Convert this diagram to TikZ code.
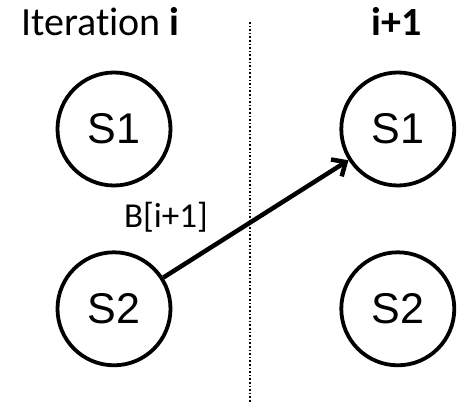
\documentclass[tikz,border=0pt]{standalone}
\usepackage{fontspec}
\setmainfont{Carlito}[Ligatures=NoCommon]
\newfontfamily\statefont{Liberation Sans}
\usetikzlibrary{arrows.meta, positioning}

\begin{document}
\begin{tikzpicture}[
    x=1pt, y=-1pt,
    node distance=63pt and 167pt,
    state/.style={
        circle, draw,
        line width=3.8pt,
        minimum size=113pt,
        inner sep=0pt,
        font=\statefont\fontsize{43}{43}\selectfont
    },
    heading/.style={font=\fontsize{40}{40}\selectfont, inner sep=0pt},
    lbl/.style={font=\fontsize{35}{35}\selectfont, inner sep=0pt},
    arrow/.style={-{Straight Barb[length=11pt, width=20pt, line width=4.5pt]}, line width=4.5pt},
    divider/.style={dotted, line width=1.6pt}
]
\useasboundingbox (0,0) rectangle (463,404);

% Headings
\node [heading, anchor=base west] (iter) at (21,36) {Iteration \textbf{i}};
\node [heading, anchor=base] (next) at (397,36) {\textbf{i+1}};

% States, iteration i
\node [state] (s1) at (114,129) {S1};
\node [state, below=of s1] (s2) {S2};

% States, iteration i+1
\node [state, right=of s1] (t1) {S1};
\node [state, below=of t1] (t2) {S2};

% Divider
\coordinate (top) at (250,22);
\coordinate (bottom) at (250,404);
\draw [divider] (top) -- (bottom);

% Transfer
\draw [arrow] (s2) -- (t1);
\node [lbl, anchor=base east] (bval) at (208,227) {B[i+1]};

\end{tikzpicture}
\end{document}
